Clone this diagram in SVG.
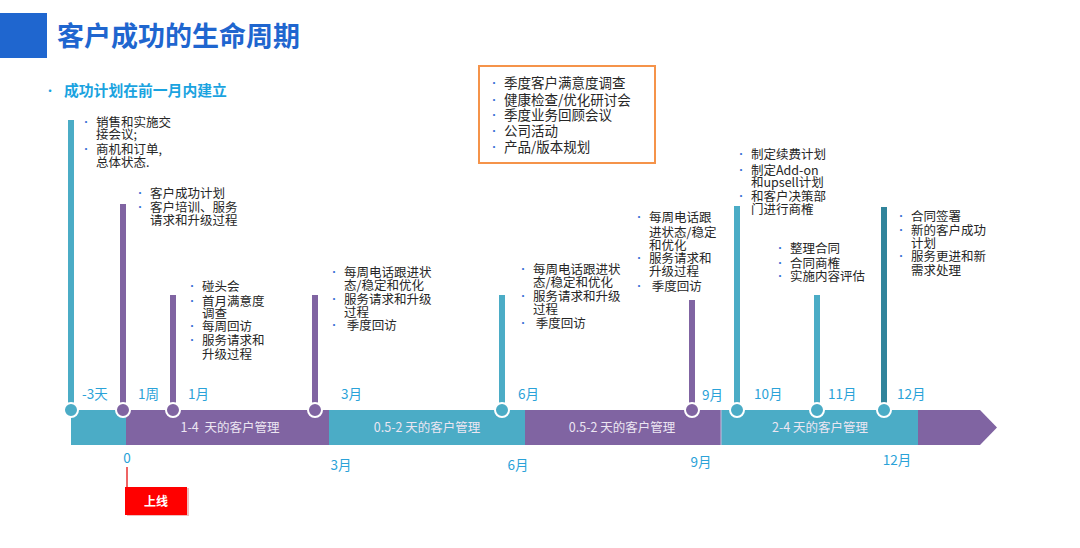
<svg xmlns="http://www.w3.org/2000/svg" width="1080" height="548" viewBox="0 0 1080 548">
<style>
.t{font-family:"Noto Sans CJK SC","Noto Sans",sans-serif;font-size:12.5px;fill:#262626}
.b{font-family:"Noto Sans CJK SC","Noto Sans",sans-serif;font-size:10px;fill:#3b6fd6}
.m{font-family:"Noto Sans CJK SC","Noto Sans",sans-serif;font-size:13.5px;fill:#2aa2d8}
.bl{font-family:"Noto Sans CJK SC","Noto Sans",sans-serif;font-size:12.5px;fill:#ece6f2;text-anchor:middle}
.ob{font-family:"Noto Sans CJK SC","Noto Sans",sans-serif;font-size:13.5px;fill:#262626}
.teal{fill:#4bacc6}.pur{fill:#8064a2}.dk{fill:#31849b}
.dot{stroke:#fff;stroke-width:2}
</style>
<rect width="1080" height="548" fill="#fff"/>
<g id="title">
<rect x="0" y="13" width="47" height="45" fill="#1f66cf"/>
<text x="57" y="46" font-family="Noto Sans CJK SC,sans-serif" font-size="27" font-weight="bold" fill="#1f66cf">客户成功的生命周期</text>
<text x="44" y="96" font-family="Noto Sans CJK SC,sans-serif" font-size="12" fill="#1aa3e0">•</text>
<text x="64" y="96" font-family="Noto Sans CJK SC,sans-serif" font-size="14.8" font-weight="bold" fill="#1aa3e0">成功计划在前一月内建立</text>
</g>
<g id="timeline">
<rect x="71" y="410" width="55" height="35" class="teal"/>
<rect x="126" y="410" width="203" height="35" class="pur"/>
<rect x="329" y="410" width="196" height="35" class="teal"/>
<rect x="525" y="410" width="196" height="35" class="pur"/>
<rect x="721" y="410" width="197" height="35" class="teal"/>
<path d="M918 410H980L997 427.5L980 445H918Z" class="pur"/>
<line x1="721" y1="410" x2="721" y2="445" stroke="#c9bddb" stroke-width="1"/>
<text x="230" y="432" class="bl" xml:space="preserve">1-4  天的客户管理</text>
<text x="427" y="432" class="bl">0.5-2 天的客户管理</text>
<text x="622" y="432" class="bl">0.5-2 天的客户管理</text>
<text x="820" y="432" class="bl">2-4 天的客户管理</text>
<text x="127" y="463" class="m" text-anchor="middle">0</text>
<text x="341" y="470" class="m" text-anchor="middle">3月</text>
<text x="518" y="470" class="m" text-anchor="middle">6月</text>
<text x="701" y="467" class="m" text-anchor="middle">9月</text>
<text x="897" y="465" class="m" text-anchor="middle">12月</text>
</g>
<g id="golive">
<line x1="127" y1="467" x2="127" y2="487" stroke="#e83030" stroke-width="1.5"/>
<rect x="127" y="488" width="62" height="28" fill="#b00" opacity="0.25"/>
<rect x="125" y="487" width="62" height="28" fill="#ff0000"/>
<text x="156" y="505.5" font-family="Noto Sans CJK SC,sans-serif" font-size="12" font-weight="bold" fill="#fff" text-anchor="middle">上线</text>
</g>
<g id="quarterly">
<rect x="479" y="66" width="176" height="97" fill="#fff" stroke="#f5934a" stroke-width="2"/>
<text class="b" x="489" y="87">•</text><text class="ob" x="504" y="88">季度客户满意度调查</text>
<text class="b" x="489" y="104">•</text><text class="ob" x="504" y="105">健康检查/优化研讨会</text>
<text class="b" x="489" y="119">•</text><text class="ob" x="504" y="120">季度业务回顾会议</text>
<text class="b" x="489" y="135">•</text><text class="ob" x="504" y="136">公司活动</text>
<text class="b" x="489" y="151">•</text><text class="ob" x="504" y="152">产品/版本规划</text>
</g>
<g id="m-3d">
<rect x="68" y="120" width="6" height="290" class="teal"/>
<circle cx="71" cy="410" r="7" class="teal dot"/>
<text x="82" y="399" class="m">-3天</text>
<text class="b" x="81" y="126">•</text><text class="t" x="96" y="127">销售和实施交</text>
<text class="t" x="96" y="139">接会议;</text>
<text class="b" x="81" y="153">•</text><text class="t" x="96" y="154">商机和订单,</text>
<text class="t" x="96" y="167">总体状态.</text>
</g>
<g id="m-1w">
<rect x="120" y="204" width="6" height="206" class="pur"/>
<circle cx="123" cy="410" r="7" class="pur dot"/>
<text x="138" y="399" class="m">1周</text>
<text class="b" x="135" y="197">•</text><text class="t" x="150" y="198">客户成功计划</text>
<text class="b" x="135" y="211">•</text><text class="t" x="150" y="212">客户培训、服务</text>
<text class="t" x="150" y="225">请求和升级过程</text>
</g>
<g id="m-1m">
<rect x="170" y="295" width="6" height="115" class="pur"/>
<circle cx="173" cy="410" r="7" class="pur dot"/>
<text x="188" y="399" class="m">1月</text>
<text class="b" x="187" y="290">•</text><text class="t" x="202" y="291">碰头会</text>
<text class="b" x="187" y="305">•</text><text class="t" x="202" y="306">首月满意度</text>
<text class="t" x="202" y="318">调查</text>
<text class="b" x="187" y="330">•</text><text class="t" x="202" y="331">每周回访</text>
<text class="b" x="187" y="344">•</text><text class="t" x="202" y="345">服务请求和</text>
<text class="t" x="202" y="359">升级过程</text>
</g>
<g id="m-3m">
<rect x="312" y="295" width="6" height="115" class="pur"/>
<circle cx="315" cy="410" r="7" class="pur dot"/>
<text x="341" y="399" class="m">3月</text>
<text class="b" x="329" y="276">•</text><text class="t" x="344" y="277">每周电话跟进状</text>
<text class="t" x="344" y="290">态/稳定和优化</text>
<text class="b" x="329" y="303">•</text><text class="t" x="344" y="304">服务请求和升级</text>
<text class="t" x="344" y="317">过程</text>
<text class="b" x="329" y="329">•</text><text class="t" x="344" y="330" xml:space="preserve"> 季度回访</text>
</g>
<g id="m-6m">
<rect x="499" y="295" width="6" height="115" class="teal"/>
<circle cx="502" cy="410" r="7" class="teal dot"/>
<text x="518" y="399" class="m">6月</text>
<text class="b" x="518" y="273">•</text><text class="t" x="533" y="274">每周电话跟进状</text>
<text class="t" x="533" y="287">态/稳定和优化</text>
<text class="b" x="518" y="300">•</text><text class="t" x="533" y="301">服务请求和升级</text>
<text class="t" x="533" y="314">过程</text>
<text class="b" x="518" y="327">•</text><text class="t" x="533" y="328" xml:space="preserve"> 季度回访</text>
</g>
<g id="m-9m">
<rect x="689" y="300" width="6" height="110" class="pur"/>
<circle cx="692" cy="410" r="7" class="pur dot"/>
<text x="702" y="400" class="m">9月</text>
<text class="b" x="634" y="221">•</text><text class="t" x="649" y="222">每周电话跟</text>
<text class="t" x="649" y="237">进状态/稳定</text>
<text class="t" x="649" y="250">和优化</text>
<text class="b" x="634" y="262">•</text><text class="t" x="649" y="263">服务请求和</text>
<text class="t" x="649" y="276">升级过程</text>
<text class="b" x="634" y="290">•</text><text class="t" x="649" y="291" xml:space="preserve"> 季度回访</text>
</g>
<g id="m-10m">
<rect x="734" y="206" width="6" height="204" class="teal"/>
<circle cx="737" cy="410" r="7" class="teal dot"/>
<text x="754" y="399" class="m">10月</text>
<text class="b" x="736" y="158">•</text><text class="t" x="751" y="159">制定续费计划</text>
<text class="b" x="736" y="174">•</text><text class="t" x="751" y="175">制定Add-on</text>
<text class="t" x="751" y="187">和upsell计划</text>
<text class="b" x="736" y="200">•</text><text class="t" x="751" y="201">和客户决策部</text>
<text class="t" x="751" y="214">门进行商榷</text>
</g>
<g id="m-11m">
<rect x="814" y="295" width="6" height="115" class="teal"/>
<circle cx="817" cy="410" r="7" class="teal dot"/>
<text x="828" y="399" class="m">11月</text>
<text class="b" x="775" y="252">•</text><text class="t" x="790" y="253">整理合同</text>
<text class="b" x="775" y="267">•</text><text class="t" x="790" y="268">合同商榷</text>
<text class="b" x="775" y="280">•</text><text class="t" x="790" y="281">实施内容评估</text>
</g>
<g id="m-12m">
<rect x="881" y="207" width="6" height="203" class="dk"/>
<circle cx="884" cy="410" r="7" class="teal dot"/>
<text x="897" y="399" class="m">12月</text>
<text class="b" x="896" y="220">•</text><text class="t" x="911" y="221">合同签署</text>
<text class="b" x="896" y="234">•</text><text class="t" x="911" y="235">新的客户成功</text>
<text class="t" x="911" y="248">计划</text>
<text class="b" x="896" y="260">•</text><text class="t" x="911" y="261">服务更进和新</text>
<text class="t" x="911" y="275">需求处理</text>
</g>
</svg>
